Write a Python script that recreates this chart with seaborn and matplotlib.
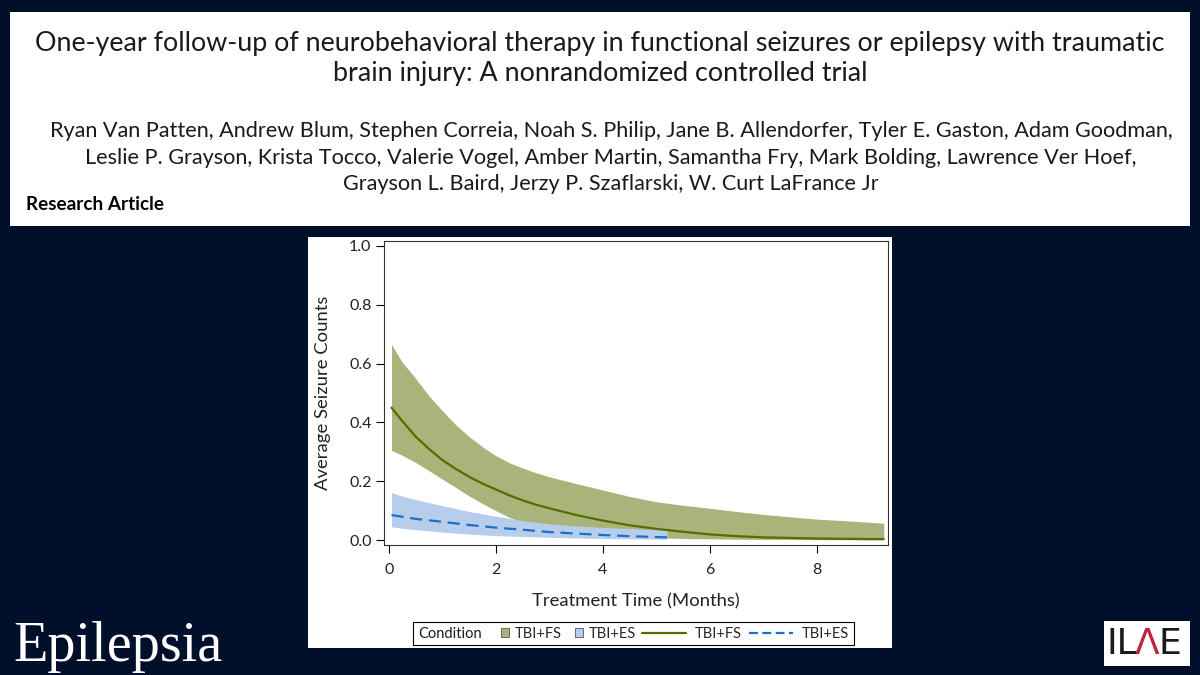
import numpy as np
import pandas as pd
import matplotlib
matplotlib.use("Agg")
import matplotlib.pyplot as plt
import seaborn as sns
from matplotlib.patches import Patch, Rectangle
from matplotlib.lines import Line2D

# values
months_fs = [0.05, 0.25, 0.5, 0.75, 1, 1.25, 1.5, 1.75, 2, 2.25, 2.5, 2.75, 3, 3.5, 4, 4.5,
             5, 5.5, 6, 6.5, 7, 7.5, 8, 8.5, 9, 9.25]
fs_mean = [0.45, 0.405, 0.352, 0.31, 0.272, 0.242, 0.215, 0.192, 0.172, 0.152, 0.135, 0.12,
           0.108, 0.085, 0.066, 0.05, 0.038, 0.028, 0.019, 0.013, 0.009, 0.007, 0.005, 0.004,
           0.003, 0.003]
fs_upper = [0.665, 0.605, 0.55, 0.49, 0.44, 0.392, 0.352, 0.317, 0.287, 0.263, 0.245, 0.229,
            0.215, 0.192, 0.17, 0.148, 0.13, 0.118, 0.108, 0.097, 0.087, 0.079, 0.071, 0.066,
            0.06, 0.057]
fs_lower = [0.305, 0.288, 0.264, 0.236, 0.207, 0.179, 0.15, 0.124, 0.1, 0.077, 0.06, 0.048,
            0.04, 0.028, 0.02, 0.013, 0.008, 0.005, 0.004, 0.003, 0.002, 0.002, 0.001, 0.001,
            0.001, 0.001]

months_es = [0.05, 0.25, 0.5, 0.75, 1, 1.5, 2, 2.5, 3, 3.5, 4, 4.5, 5, 5.2]
es_mean = [0.085, 0.079, 0.072, 0.067, 0.062, 0.051, 0.042, 0.035, 0.027, 0.022, 0.017, 0.013,
           0.010, 0.009]
es_upper = [0.161, 0.149, 0.138, 0.127, 0.117, 0.097, 0.081, 0.066, 0.055, 0.048, 0.043, 0.039,
            0.035, 0.034]
es_lower = [0.045, 0.04, 0.035, 0.031, 0.027, 0.02, 0.015, 0.012, 0.009, 0.007, 0.005, 0.004,
            0.003, 0.003]

x_ticks = [0, 2, 4, 6, 8]
y_ticks = [0.0, 0.2, 0.4, 0.6, 0.8, 1.0]

title_lines = ["One-year follow-up of neurobehavioral therapy in functional seizures or epilepsy with traumatic",
               "brain injury: A nonrandomized controlled trial"]
authors = ["Ryan Van Patten, Andrew Blum, Stephen Correia, Noah S. Philip, Jane B. Allendorfer, Tyler E. Gaston, Adam Goodman,",
           "Leslie P. Grayson, Krista Tocco, Valerie Vogel, Amber Martin, Samantha Fry, Mark Bolding, Lawrence Ver Hoef,",
           "Grayson L. Baird, Jerzy P. Szaflarski, W. Curt LaFrance Jr"]

navy = "#01102a"
green_fill = "#a9b47a"
green_line = "#566b00"
blue_fill = "#b6cdec"
blue_line = "#1f6fc6"

sns.set_style("white")
plt.rcParams['font.family'] = ['Lato', 'DejaVu Sans']

fs = pd.DataFrame({"month": months_fs, "mean": fs_mean, "lo": fs_lower, "hi": fs_upper})
es = pd.DataFrame({"month": months_es, "mean": es_mean, "lo": es_lower, "hi": es_upper})

W, H = 1200, 675
fig = plt.figure(figsize=(12, 6.75), dpi=100, facecolor=navy)

def px(x, y):
    return x / W, 1 - y / H

# header box and chart panel
fig.add_artist(Rectangle(px(10, 226), 1180 / W, 214 / H, transform=fig.transFigure,
                         facecolor="white", edgecolor="none", zorder=-2))
fig.add_artist(Rectangle(px(308, 648), 584 / W, 411 / H, transform=fig.transFigure,
                         facecolor="white", edgecolor="none", zorder=-2))

fig.text(*px(600, 44), title_lines[0], ha="center", va="center", fontsize=19.4, color="#1a1a1a")
fig.text(*px(600, 74), title_lines[1], ha="center", va="center", fontsize=19.4, color="#1a1a1a")
for i, line in enumerate(authors):
    fig.text(*px(611, 131 + i * 26.5), line, ha="center", va="center", fontsize=15.6, color="#1a1a1a")
fig.text(*px(26, 205), "Research Article", ha="left", va="center", fontsize=13.6,
         fontweight="bold", color="black")

ax = fig.add_axes([384 / W, 1 - 545 / H, 504 / W, 304 / H])
ax.set_facecolor("white")

ax.fill_between(fs["month"], fs["lo"], fs["hi"], color=green_fill, linewidth=0, zorder=1)
ax.fill_between(es["month"], es["lo"], es["hi"], color=blue_fill, linewidth=0, zorder=2)
sns.lineplot(data=fs, x="month", y="mean", ax=ax, color=green_line, linewidth=1.6, zorder=3)
sns.lineplot(data=es, x="month", y="mean", ax=ax, color=blue_line, linewidth=1.6,
             linestyle=(0, (5.5, 3)), zorder=3)

ax.set_xlim(-0.09, 9.33)
ax.set_ylim(-0.017, 1.017)
ax.set_xticks(x_ticks)
ax.set_yticks(y_ticks)
ax.set_yticklabels([f"{v:.1f}" for v in y_ticks])
ax.tick_params(axis="both", direction="out", length=6, width=0.8, color="black",
               labelsize=11.5, labelcolor="#222222", left=True, bottom=True, pad=3)
ax.tick_params(axis="x", pad=7)
for s in ax.spines.values():
    s.set_color("#333333")
    s.set_linewidth(0.8)
ax.set_xlabel("Treatment Time (Months)", fontsize=13.3, color="#222222", labelpad=12)
ax.set_ylabel("Average Seizure Counts", fontsize=13.3, color="#222222", labelpad=13)

# legend: drawn frame with the caption, fills and lines in two borderless legends
fig.add_artist(Rectangle(px(413, 645), 441 / W, 23 / H, transform=fig.transFigure,
                         facecolor="white", edgecolor="black", linewidth=0.8, zorder=5))
fig.text(*px(418, 633.5), "Condition", ha="left", va="center", fontsize=10.5, color="#1a1a1a",
         zorder=6)
fill_handles = [Patch(facecolor=green_fill, edgecolor="#555555", linewidth=0.6, label="TBI+FS"),
                Patch(facecolor=blue_fill, edgecolor="#555555", linewidth=0.6, label="TBI+ES")]
line_handles = [Line2D([], [], color=green_line, linewidth=1.6, label="TBI+FS"),
                Line2D([], [], color=blue_line, linewidth=1.6, linestyle=(0, (4, 2)), label="TBI+ES")]
leg1 = fig.legend(handles=fill_handles, loc="center left", bbox_to_anchor=px(501, 634), ncol=2,
                  fontsize=10.5, frameon=False, handlelength=0.55, handleheight=0.55,
                  handletextpad=0.4, columnspacing=0.9, borderpad=0, borderaxespad=0)
leg2 = fig.legend(handles=line_handles, loc="center left", bbox_to_anchor=px(642, 634), ncol=2,
                  fontsize=10.5, frameon=False, handlelength=3.0, handletextpad=0.6,
                  columnspacing=0.5, borderpad=0, borderaxespad=0)
leg1.set_zorder(7)
leg2.set_zorder(7)

fig.text(*px(13, 661), "Epilepsia", ha="left", va="baseline", fontsize=40.5,
         family="Liberation Serif", color="white")

# ILAE logo
fig.add_artist(Rectangle(px(1104, 666), 86 / W, 45 / H, transform=fig.transFigure,
                         facecolor="white", edgecolor="none", zorder=-2))
fig.text(*px(1106, 644), "IL", ha="left", va="center", fontsize=26, color="#1b1b1b",
         family="Liberation Sans Narrow")
fig.text(*px(1135, 644), "Λ", ha="left", va="center", fontsize=26, color="#c0213f",
         family="DejaVu Sans")
fig.text(*px(1158, 644), "E", ha="left", va="center", fontsize=26, color="#1b1b1b",
         family="Liberation Sans Narrow")

fig.savefig("out.png", dpi=100, facecolor=navy)
